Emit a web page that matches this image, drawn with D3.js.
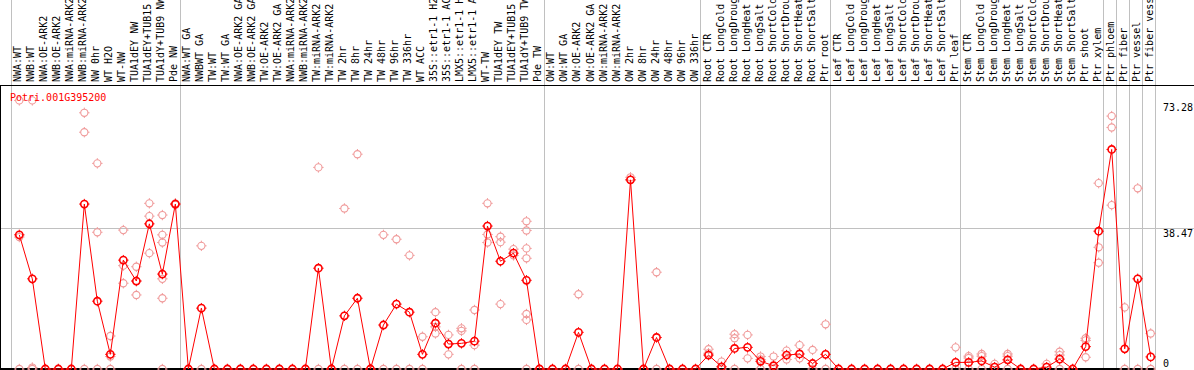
<!DOCTYPE html>
<html><head><meta charset="utf-8">
<script src="https://cdn.jsdelivr.net/npm/d3@7"></script>
<style>html,body{margin:0;padding:0;background:#fff;overflow:hidden}svg{display:block}text{font-family:"DejaVu Sans Mono",monospace;font-size:10px}</style>
</head><body><svg id="c" width="1194" height="370"></svg>
<script>
const geneTitle = "Potri.001G395200";
const categories = ["NWA:WT","NWB:WT","NWA:OE-ARK2","NWB:OE-ARK2","NWA:miRNA-ARK2","NWB:miRNA-ARK2","NW 0hr","WT H2O","WT-NW","TUA1dEY NW","TUA1dEY+TUB15 NW","TUA1dY+TUB9 NW","Pde NW",
"NWA:WT GA","NWBWT GA","TW:WT","TW:WT GA","NWA:OE-ARK2 GA","NWB:OE-ARK2 GA","TW:OE-ARK2","TW:OE-ARK2 GA","NWA:miRNA-ARK2 GA","NWB:miRNA-ARK2 GA","TW:miRNA-ARK2","TW:miRNA-ARK2 GA","TW 2hr","TW 8hr","TW 24hr","TW 48hr","TW 96hr","TW 336hr","WT ACC","35S::etr1-1 H2O","35S::etr1-1 ACC","LMX5::etr1-1 H2O","LMX5::etr1-1 ACC","WT-TW","TUA1dEY TW","TUA1dEY+TUB15 TW","TUA1dY+TUB9 TW","Pde TW",
"OW:WT","OW:WT GA","OW:OE-ARK2","OW:OE-ARK2 GA","OW:miRNA-ARK2","OW:miRNA-ARK2 GA","OW 2hr","OW 8hr","OW 24hr","OW 48hr","OW 96hr","OW 336hr",
"Root CTR","Root LongCold","Root LongDrought","Root LongHeat","Root LongSalt","Root ShortCold","Root ShortDrought","Root ShortHeat","Root ShortSalt","Ptr root",
"Leaf CTR","Leaf LongCold","Leaf LongDrought","Leaf LongHeat","Leaf LongSalt","Leaf ShortCold","Leaf ShortDrought","Leaf ShortHeat","Leaf ShortSalt","Ptr leaf",
"Stem CTR","Stem LongCold","Stem LongDrought","Stem LongHeat","Stem LongSalt","Stem ShortCold","Stem ShortDrought","Stem ShortHeat","Stem ShortSalt","Ptr shoot","Ptr xylem",
"Ptr phloem","Ptr fiber","Ptr vessel","Ptr fiber vessel"];
const groupStarts = ["NWA:WT","NWA:WT GA","OW:WT","Root CTR","Leaf CTR","Stem CTR","Ptr phloem","Ptr fiber","Ptr vessel","Ptr fiber vessel"];
const meanValues = [36.6,24.6,0,0,0,45.0,18.5,4.0,29.7,24.0,39.6,25.9,45.0,
0,16.6,0,0,0,0,0,0,0,0,27.5,0,14.5,19.3,0,12.0,17.7,15.5,4.0,12.5,6.8,7.0,7.6,39.0,29.4,31.6,24.2,0,
0,0,10.0,0,0,0,51.6,0,8.6,0,0,0,
3.8,0.6,5.6,5.9,2.1,0.9,3.8,4.1,1.5,4.0,
0,0,0,0,0,0,0,0,0,1.8,
1.8,2.2,0.5,2.5,0,0,0.5,2.7,0,6.1,37.6,
59.9,5.5,24.6,3.3];
const replicateValues = [[73.28,36.0,0],[73.28,0.4,0],[0],[0],[0],[69.9,64.6,0],[56.1,37.3,0],[9.0,3.4,0],[37.9,28.2,23.4],[27.9,24.0,20.2],[45.2,41.7,31.6],[42.0,36.6,34.5,24.6,19.3,0],[45.2,44.8],
[0],[33.6,0],[0],[0],[0],[0],[0],[0],[0],[0],[55.0,0],[0],[43.8,0],[58.6,0],[0],[36.6,0],[35.4,0],[31.0,0],[8.8,0],[15.5,11.5,9.7],[9.3,6.9,4.0],[11.1,10.4,0],[16.1,6.5,0],[45.2,36.7,34.5],[36.1,34.6,17.7],[32.7,31.0],[40.3,37.8,32.9,30.2,15.0,13.4,0],[0],
[0],[0],[20.4,0],[0],[0],[0],[52.3,51.6],[0],[26.4,0],[0],[0],[0],
[5.4,4.3],[2.0,0],[9.5,8.4,0],[9.3,2.9],[3.4,2.6,0],[3.4,0],[5.0,2.6],[6.5,2.9],[5.2,0],[12.2,0],
[0],[0],[0],[0],[0],[0],[0],[0],[0],[5.9,0],
[3.5,3.0,0],[4.1,3.5,0],[1.4],[4.1,3.5,0],[0],[0],[1.4],[4.7,3.8,0],[0],[8.4,7.8,3.2],[50.7,33.2,29.0],
[69.0,65.9,44.7],[16.8,0],[49.3,0],[9.7,0]];
const tickValues = [0, 38.47, 73.28];
const tickLabels = ["0","38.47","73.28"];

const svg = d3.select("#c");
const W = 1194, H = 370;
const x = d3.scalePoint().domain(categories).range([19.3, 1150.7]);
const y = d3.scaleLinear().domain([0, 73.28]).range([369, 100.4]);
const step = x.step();

// group separators
const seps = groupStarts.map(c => x(c) - 8.5).concat([x(categories[categories.length-1]) + 4.5]);
svg.append("g").selectAll("line").data(seps).join("line")
  .attr("x1", d => Math.round(d) + 0.5).attr("x2", d => Math.round(d) + 0.5)
  .attr("y1", 0).attr("y2", H).attr("stroke", "#c0c0c0").attr("stroke-width", 1);

// horizontal grid at mid tick
svg.append("line").attr("x1", 0).attr("x2", W)
  .attr("y1", Math.round(y(38.47)) + 0.5).attr("y2", Math.round(y(38.47)) + 0.5)
  .attr("stroke", "#c0c0c0");

// frame lines
svg.append("line").attr("x1", 0).attr("x2", W).attr("y1", 85.5).attr("y2", 85.5).attr("stroke", "#000");
svg.append("line").attr("x1", 0.5).attr("x2", 0.5).attr("y1", 85).attr("y2", H).attr("stroke", "#000");
svg.append("line").attr("x1", 0).attr("x2", 1155).attr("y1", 369).attr("y2", 369).attr("stroke", "#000").attr("stroke-width", 2);

// category labels via axis
const xAxis = d3.axisTop(x).tickSize(0).tickPadding(0);
const gx = svg.append("g").attr("transform", "translate(0,82)").call(xAxis);
gx.select(".domain").remove();
gx.selectAll("text").attr("transform", "rotate(-90)").attr("x", 0).attr("y", 1.5).attr("dy", 0)
  .attr("text-anchor", "start").attr("fill", "#000")
  .style("font-family", '"DejaVu Sans Mono",monospace').style("font-size", "10px");

// right value axis
const yAxis = d3.axisRight(y).tickValues(tickValues).tickSize(0).tickPadding(0)
  .tickFormat((d, i) => tickLabels[i]);
const gy = svg.append("g").attr("transform", "translate(1163,0)").call(yAxis);
gy.select(".domain").remove();
gy.selectAll("text").attr("x", 0).attr("dy", d => d === 0 ? "-3px" : (d === 73.28 ? "10.5px" : "9px"))
  .attr("fill", "#000").style("font-family", '"DejaVu Sans Mono",monospace').style("font-size", "10px");

// symbol
function marker(g, cx, cy, color, sw) {
  g.append("circle").attr("cx", cx).attr("cy", cy).attr("r", 3.6).attr("fill", "none").attr("stroke", color).attr("stroke-width", sw);
  const t = 5.2, r = 3.6;
  g.append("path").attr("d", `M${cx},${cy-t}V${cy-r}M${cx},${cy+r}V${cy+t}M${cx-t},${cy}H${cx-r}M${cx+r},${cy}H${cx+t}`)
    .attr("stroke", color).attr("stroke-width", 1).attr("fill", "none");
}

// replicates
const gr = svg.append("g");
categories.forEach((c, i) => {
  replicateValues[i].forEach(v => marker(gr, x(c), y(v), "#f09a9a", 1.1));
});

// mean line
const line = d3.line().x((d, i) => x(categories[i])).y(d => y(d));
svg.append("path").datum(meanValues).attr("d", line).attr("fill", "none").attr("stroke", "#ff0000").attr("stroke-width", 1);

// mean markers
const gm = svg.append("g");
categories.forEach((c, i) => marker(gm, x(c), y(meanValues[i]), "#ff0000", 1.6));

// title
svg.append("text").attr("x", 10).attr("y", 101).attr("fill", "#ff0000").text(geneTitle);
</script></body></html>
